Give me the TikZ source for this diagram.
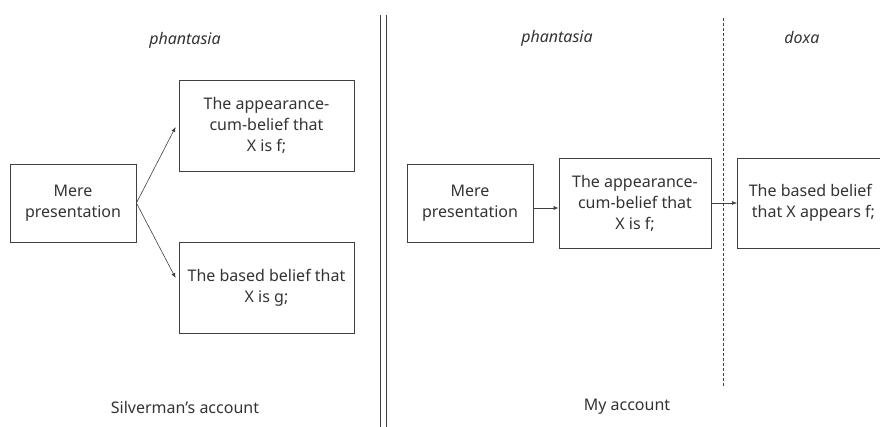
\documentclass[tikz,border=0pt]{standalone}
\usepackage{fontspec}
\setmainfont{Noto Sans}
\usetikzlibrary{arrows.meta}
\begin{document}
\begin{tikzpicture}[x=1pt,y=-1pt,
  txt/.style={text=black!80, font=\fontsize{16}{21}\selectfont},
  box/.style={draw=black!75, line width=0.8pt, align=center, txt, inner sep=0pt},
  lbl/.style={txt, font=\fontsize{16}{21}\selectfont\itshape},
  conn/.style={draw=black!75, line width=0.6pt, -{Latex[length=5pt,width=4pt]}},
  sep/.style={draw=black!75, line width=0.7pt}]
\useasboundingbox (0,0) rectangle (880,427);
\clip (0,0) rectangle (880,427);

% left panel
\node[lbl] (lph) at (185,40) {phantasia};
\node[box, minimum width=126pt, minimum height=78pt] (lmere) at (73,203) {Mere\\presentation};
\node[box, minimum width=175pt, minimum height=91pt] (lapp) at (266.5,125.5) {The appearance-\\cum-belief that\\X is f;};
\node[box, minimum width=175pt, minimum height=91pt] (lbel) at (266.5,287.5) {The based belief that\\X is g;};
\coordinate (lfork) at (lmere.east);
\draw[conn] (lfork) -- ([xshift=-3pt,yshift=-1.5pt]lapp.west);
\draw[conn] (lfork) -- ([xshift=-3pt,yshift=9.5pt]lbel.west);
\node[txt] (lacc) at (185,407) {Silverman's account};

% double separator
\coordinate (s1t) at (380,15);
\coordinate (s1b) at (380,427);
\coordinate (s2t) at (386,15);
\coordinate (s2b) at (386,427);
\draw[sep] (s1t) -- (s1b);
\draw[sep] (s2t) -- (s2b);

% right panel
\node[lbl] (rph) at (557,38) {phantasia};
\node[lbl] (rdx) at (802,38) {doxa};
\node[box, minimum width=126pt, minimum height=78pt] (rmere) at (470,203) {Mere\\presentation};
\node[box, minimum width=152pt, minimum height=90pt] (rapp) at (635,203) {The appearance-\\cum-belief that\\X is f;};
\node[box, minimum width=152pt, minimum height=90pt, anchor=west] (rbel) at (737,203) {\hspace*{-6pt}The based belief\\that X appears f;};
\draw[conn] ([yshift=-5pt]rmere.east) -- ([yshift=-5pt]rapp.west);
\draw[conn] (rapp.east) -- (rbel.west);
\coordinate (dt) at (723,18);
\coordinate (db) at (723,386);
\draw[sep, line width=0.6pt, dash pattern=on 3pt off 2pt] (dt) -- (db);
\node[txt] (racc) at (627,407) {My account};
\end{tikzpicture}
\end{document}
